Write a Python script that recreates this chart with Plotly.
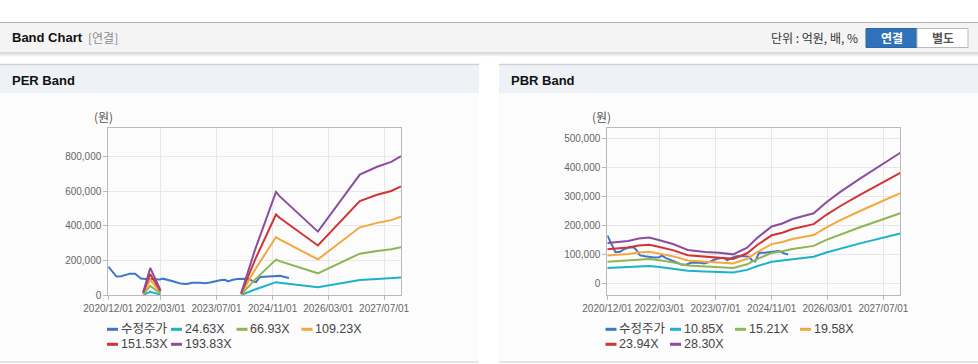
import plotly.graph_objects as go

W, H = 978, 364

# ---------------- data ----------------
price_dates = ["2020-12-01", "2020-12-20", "2021-01-15", "2021-02-10", "2021-03-22", "2021-04-25",
               "2021-06-08", "2021-07-22", "2021-08-17", "2021-09-12", "2021-10-25", "2022-01-12",
               "2022-02-24", "2022-03-22", "2022-04-26", "2022-06-09", "2022-07-22", "2022-09-04",
               "2022-10-18", "2022-11-30", "2023-02-08", "2023-03-23", "2023-05-06", "2023-06-18",
               "2023-08-01", "2023-09-14", "2023-10-10", "2023-11-14", "2023-12-27", "2024-02-26",
               "2024-04-18", "2024-05-14", "2024-06-10", "2024-07-14", "2024-09-05", "2024-11-05",
               "2025-01-05", "2025-02-17", "2025-03-24"]
price_values = [166000, 150000, 130000, 108000, 110000, 118000,
                125000, 124000, 113000, 97000, 94000, 90000,
                91000, 96000, 88000, 82000, 74000, 66000,
                65000, 72000, 73000, 69000, 74000, 82000,
                87000, 89000, 80000, 88000, 94000, 95000,
                93000, 80000, 76000, 106000, 106000, 110000,
                112000, 104000, 100000]

per_dates = ["2021-10-01", "2021-12-01", "2022-03-01", "2023-01-01", "2024-02-01", "2024-06-01",
             "2024-12-01", "2025-01-01", "2025-12-01", "2026-12-01", "2027-05-01", "2027-09-01",
             "2027-11-25"]
per_names = ["24.63X", "66.93X", "109.23X", "151.53X", "193.83X"]
per_band_2463 = [2200, 20100, 3700, None, 1500, 33300, 75700, 72700, 46700, 88400, 94200, 97800, 102100]
per_band_6693 = [6000, 54500, 10000, None, 4000, 90400, 205800, 197400, 126800, 240300, 256000, 265700, 277400]
per_band_10923 = [9800, 89000, 16400, None, 6600, 147500, 335900, 322200, 207000, 392100, 417800, 433600, 452800]
per_band_15153 = [13600, 123500, 22700, None, 9100, 204600, 466000, 447000, 287100, 544000, 579600, 601600, 628100]
per_band_19383 = [17400, 158000, 29100, None, 11600, 261700, 596000, 571800, 367300, 695900, 741400, 769500, 803400]

pbr_dates = ["2020-12-01", "2021-06-01", "2021-09-01", "2021-12-01", "2022-03-01", "2022-07-01",
             "2022-11-01", "2023-04-01", "2023-08-01", "2023-12-01", "2024-04-01", "2024-07-01",
             "2024-11-01", "2025-02-01", "2025-05-01", "2025-11-01", "2026-02-20", "2026-06-18",
             "2026-12-09", "2027-11-25"]
pbr_names = ["10.85X", "15.21X", "19.58X", "23.94X", "28.30X"]
pbr_band_1085 = [53700, 56300, 59400, 60700, 57200, 51900, 44300, 41700, 40700, 38600, 47400, 60700,
                 75300, 79300, 85200, 92700, 107300, 120600, 138400, 172500]
pbr_band_1521 = [75200, 79000, 83200, 85100, 80200, 72800, 62100, 58400, 57100, 54100, 66400, 85100,
                 105600, 111200, 119400, 129900, 150400, 169100, 194100, 241900]
pbr_band_1958 = [96900, 101600, 107200, 109500, 103300, 93700, 80000, 75200, 73500, 69700, 85500, 109500,
                 135900, 143100, 153700, 167200, 193600, 217700, 249800, 311300]
pbr_band_2394 = [118400, 124300, 131000, 133900, 126300, 114500, 97800, 92000, 89800, 85200, 104500, 133900,
                 166200, 175000, 188000, 204500, 236700, 266100, 305500, 380700]
pbr_band_2830 = [140000, 146900, 154900, 158300, 149300, 135400, 115600, 108700, 106200, 100700, 123600, 158300,
                 196500, 206900, 222200, 241700, 279800, 314600, 361100, 450000]

price_name = "수정주가"
x_tick_vals = ["2020-12-01", "2022-03-01", "2023-07-01", "2024-11-01", "2026-03-01", "2027-07-01"]
x_tick_text = ["2020/12/01", "2022/03/01", "2023/07/01", "2024/11/01", "2026/03/01", "2027/07/01"]
per_y_ticks = [0, 200000, 400000, 600000, 800000]
pbr_y_ticks = [0, 100000, 200000, 300000, 400000, 500000]

colors = ["#3d76c8", "#1cb2c8", "#8db653", "#f5a73c", "#d23432", "#8c4d9f"]

# ---------------- helpers ----------------
def px(x):
    return x / W


def py(y):
    return 1 - y / H


FONT = "Liberation Sans, Arial, Noto Sans CJK KR, sans-serif"
KFONT = "Noto Sans CJK KR, Liberation Sans, sans-serif"

fig = go.Figure()

per_bands = [per_band_2463, per_band_6693, per_band_10923, per_band_15153, per_band_19383]
pbr_bands = [pbr_band_1085, pbr_band_1521, pbr_band_1958, pbr_band_2394, pbr_band_2830]

fig.add_trace(go.Scatter(x=price_dates, y=price_values, mode="lines", name=price_name,
                         line=dict(color=colors[0], width=2), xaxis="x", yaxis="y",
                         showlegend=False, hoverinfo="skip"))
for i, (nm, vals) in enumerate(zip(per_names, per_bands)):
    fig.add_trace(go.Scatter(x=per_dates, y=vals, mode="lines", name=nm, connectgaps=False,
                             line=dict(color=colors[i + 1], width=2), xaxis="x", yaxis="y",
                             showlegend=False, hoverinfo="skip"))

fig.add_trace(go.Scatter(x=price_dates, y=price_values, mode="lines", name=price_name,
                         line=dict(color=colors[0], width=2), xaxis="x2", yaxis="y2",
                         showlegend=False, hoverinfo="skip"))
for i, (nm, vals) in enumerate(zip(pbr_names, pbr_bands)):
    fig.add_trace(go.Scatter(x=pbr_dates, y=vals, mode="lines", name=nm,
                             line=dict(color=colors[i + 1], width=2), xaxis="x2", yaxis="y2",
                             showlegend=False, hoverinfo="skip"))

axis_common = dict(showline=True, mirror=True, linecolor="#b9b9b9", linewidth=1,
                   showgrid=True, gridcolor="#e7e7e7", gridwidth=1, zeroline=False,
                   ticks="outside", ticklen=4, tickcolor="#b9b9b9", automargin=False,
                   tickfont=dict(family=FONT, size=10, color="#666666"))

x_range = ["2020-12-01", "2027-11-25"]
ydom = [py(295.3), py(128)]

fig.update_layout(
    template="none",
    width=W, height=H, autosize=False,
    margin=dict(l=0, r=0, t=0, b=0, pad=0),
    paper_bgcolor="white", plot_bgcolor="white",
    showlegend=False,
    xaxis=dict(domain=[px(108.3), px(401)], type="date", range=x_range, tickangle=0,
               tickmode="array", tickvals=x_tick_vals, ticktext=x_tick_text, anchor="y",
               **axis_common),
    yaxis=dict(domain=ydom, range=[0, 965000], tickmode="array", tickvals=per_y_ticks,
               tickformat=",", anchor="x", **axis_common),
    xaxis2=dict(domain=[px(607.3), px(900.3)], type="date", range=x_range, tickangle=0,
                tickmode="array", tickvals=x_tick_vals, ticktext=x_tick_text, anchor="y2",
                **axis_common),
    yaxis2=dict(domain=ydom, range=[-40000, 535000], tickmode="array", tickvals=pbr_y_ticks,
                tickformat=",", anchor="x2", **axis_common),
)

shapes = []


def rect(x0, y0, x1, y1, fill, line=None, lw=0, layer="below"):
    shapes.append(dict(type="rect", xref="paper", yref="paper", x0=px(x0), x1=px(x1),
                       y0=py(y1), y1=py(y0), fillcolor=fill, layer=layer,
                       line=dict(color=line or fill, width=lw)))


def hline(x0, x1, y, color, w=1, layer="below"):
    shapes.append(dict(type="line", xref="paper", yref="paper", x0=px(x0), x1=px(x1),
                       y0=py(y), y1=py(y), line=dict(color=color, width=w), layer=layer))


# top bar
rect(0, 22, 978, 53, "#f4f4f4")
hline(0, 978, 22.5, "#b3b3b3", 1)
hline(0, 978, 53, "#bdbdbd", 1)
hline(0, 978, 54.2, "#e2e2e2", 1.5)
hline(0, 978, 55.6, "#f1f1f1", 1.5)

# panels
for (a, b) in [(0, 479), (499, 978)]:
    rect(a, 64, b, 362, "#fcfcfc")
    rect(a, 64.5, b, 93, "#eef2f7")
    hline(a, b, 64.5, "#d2d2d2", 1.5)
    hline(a, b, 362, "#dcdcdc", 1.5)

# buttons
rect(866, 28.5, 917, 47.5, "#3072b9", "#2a65a9", 1)
rect(917, 28.5, 968, 47.5, "#ffffff", "#b9b9b9", 1)

ann = []


def text(x, y, s, size=12, color="#222", xanchor="left", family=FONT):
    ann.append(dict(x=px(x), y=py(y), xref="paper", yref="paper", text=s, showarrow=False,
                    xanchor=xanchor, yanchor="middle", font=dict(family=family, size=size, color=color)))


text(10, 38, "<b>Band Chart</b>", 13, "#111")
text(86, 38, "[연결]", 12, "#8c8c8c", family=KFONT)
text(860, 38, "단위 : 억원, 배, %", 12, "#333", xanchor="right", family=KFONT)
text(891.5, 38, "<b>연결</b>", 12, "#ffffff", xanchor="center", family=KFONT)
text(942.5, 38, "<b>별도</b>", 12, "#555555", xanchor="center", family=KFONT)
text(10, 80, "<b>PER Band</b>", 13, "#111")
text(509, 80, "<b>PBR Band</b>", 13, "#111")
text(92, 117, "(원)", 12, "#555", family=KFONT)
text(590, 117, "(원)", 12, "#555", family=KFONT)


# legends (manual, compact like the original)
def legend(cols, rows, names):
    for k, nm in enumerate(names):
        r, c = divmod(k, 4)
        x0 = cols[c]
        y = rows[r]
        hline(x0, x0 + 11, y, colors[k], 3, layer="above")
        text(x0 + 11.5, y, nm, 12.5, "#444", family=FONT)


legend([107, 171, 236.5, 301.5], [329.3, 344.3], [price_name] + per_names)
legend([605.5, 670, 735, 800], [329.3, 344.3], [price_name] + pbr_names)

fig.update_layout(shapes=shapes, annotations=ann)
fig.write_html("out.html", config={"displayModeBar": False, "responsive": False},
               post_script="document.body.style.margin='0';document.body.style.overflow='hidden';")
